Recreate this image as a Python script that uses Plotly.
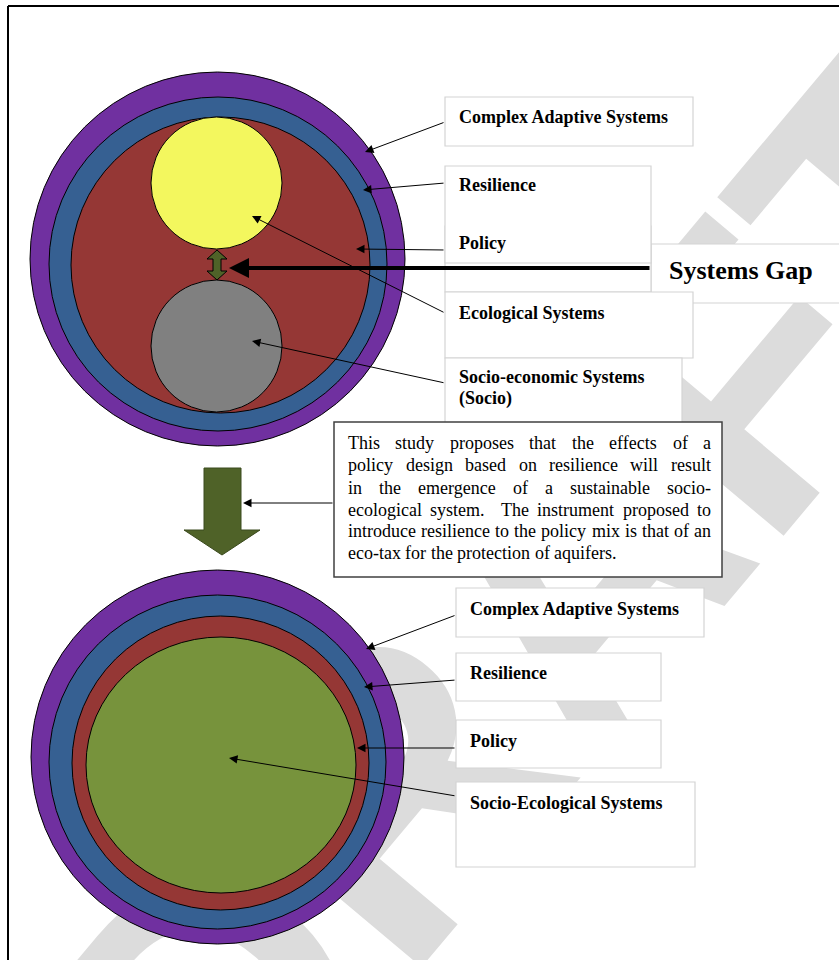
import re
import plotly.graph_objects as go

W, H = 839, 960

# ---------------- text content ----------------
top_labels = ["Complex Adaptive Systems", "Resilience", "Policy",
              "Ecological Systems", "Socio-economic Systems", "(Socio)"]
bottom_labels = ["Complex Adaptive Systems", "Resilience", "Policy",
                 "Socio-Ecological Systems"]
gap_label = "Systems Gap"
paragraph_lines = [
    "This study proposes that the effects of a",
    "policy design based on resilience will result",
    "in the emergence of a sustainable socio-",
    "ecological system.  The instrument proposed to",
    "introduce resilience to the policy mix is that of an",
    "eco-tax for the protection of aquifers.",
]
watermark_text = "DRAFT"

# ---------------- geometry (pixel layout) ----------------
top_label_x = 457
top_label_y = [117, 185, 243, 313, 377, 398]
bottom_label_x = 468
bottom_label_y = [609, 673, 741, 803]
para_left, para_right = 346, 709
para_y = [443, 465, 487.5, 509.5, 531, 552.5]

PURPLE = "#7030A0"
BLUE = "#366092"
RED = "#953735"
YELLOW = "#F3F75E"
GREY = "#808080"
GREEN = "#77933C"
OLIVE = "#4F6228"
BOXLINE = "#d4d4d4"

# Times New Roman metrics (Liberation Serif is metric compatible)
TIMES = {" ": 250, ".": 250, "-": 333, "T": 611,
         "a": 444, "b": 500, "c": 444, "d": 500, "e": 444, "f": 333, "g": 500,
         "h": 500, "i": 278, "j": 278, "k": 500, "l": 278, "m": 778, "n": 500,
         "o": 500, "p": 500, "q": 500, "r": 333, "s": 389, "t": 278, "u": 500,
         "v": 500, "w": 722, "x": 500, "y": 500, "z": 444}


def text_width(s, size):
    return sum(TIMES.get(c, 500) for c in s) / 1000.0 * size


fig = go.Figure()

# watermark (as a trace so that diagram shapes sit above it)
fig.add_trace(go.Bar(
    x=[545], y=[40], base=[590], width=[40],
    marker=dict(color="rgba(0,0,0,0)", line=dict(width=0)),
    text=[watermark_text], textposition="inside", insidetextanchor="middle",
    textangle=-50, constraintext="none", cliponaxis=False,
    textfont=dict(family="Liberation Sans", size=390, color="#dcdcdc", weight="bold"),
    hoverinfo="skip", showlegend=False))

shapes = []


def circle(x0, y0, x1, y1, color):
    shapes.append(dict(type="circle", xref="x", yref="y", x0=x0, y0=y0, x1=x1, y1=y1,
                       fillcolor=color, line=dict(color="black", width=1), layer="above"))


def rect(x0, y0, x1, y1, line_color=BOXLINE, lw=1.2):
    shapes.append(dict(type="rect", xref="x", yref="y", x0=x0, y0=y0, x1=x1, y1=y1,
                       fillcolor="white", line=dict(color=line_color, width=lw), layer="above"))


def poly(pts, color, lc="black"):
    p = "M " + " L ".join(f"{x} {y}" for x, y in pts) + " Z"
    shapes.append(dict(type="path", xref="x", yref="y", path=p, fillcolor=color,
                       line=dict(color=lc, width=1), layer="above"))


# top nested circles
circle(30, 72, 405, 446, PURPLE)
circle(49, 97, 387, 431, BLUE)
circle(71, 117, 370, 413, RED)
circle(151, 117, 282, 249, YELLOW)
circle(151, 280, 282, 412, GREY)

# small double arrow (systems gap)
poly([(213, 259), (207, 259), (217, 250), (227, 259), (221, 259), (221, 271),
      (227, 271), (217, 280), (207, 271), (213, 271)], OLIVE)

# top label boxes
rect(651, 244, 850, 303)            # Systems Gap
rect(445, 97, 693, 146)             # Complex Adaptive Systems
rect(445, 226, 651, 292)            # Policy
rect(445, 166, 651, 263)            # Resilience
rect(445, 292, 693, 358)            # Ecological
rect(445, 358, 682, 440)            # Socio-economic
rect(334, 422, 722, 577, line_color="#404040", lw=1.5)  # paragraph box

# big down arrow
poly([(204, 468), (241, 468), (241, 530), (260, 530), (222, 555), (184, 530), (204, 530)],
     OLIVE, lc="#3b4a1e")

# bottom nested circles
circle(31, 570, 404, 944, PURPLE)
circle(49, 595, 386, 929, BLUE)
circle(72, 616, 369, 910, RED)
circle(86, 637, 356, 893, GREEN)

# bottom label boxes
rect(456, 588, 704, 637)
rect(456, 653, 661, 701)
rect(456, 720, 661, 768)
rect(456, 782, 695, 867)

# outer frame
shapes.append(dict(type="line", xref="x", yref="y", x0=8, y0=6, x1=8, y1=H,
                   line=dict(color="black", width=2), layer="above"))
shapes.append(dict(type="line", xref="x", yref="y", x0=8, y0=6, x1=W, y1=6,
                   line=dict(color="black", width=2), layer="above"))

annotations = []


def arrow(hx, hy, tx, ty, width=1, size=1.7):
    annotations.append(dict(x=hx, y=hy, ax=tx, ay=ty, xref="x", yref="y",
                            axref="x", ayref="y", text="", showarrow=True,
                            arrowhead=2, arrowsize=size, arrowwidth=width,
                            arrowcolor="black", standoff=0))


def label(x, y, s, size=18, bold=True, anchor="left"):
    annotations.append(dict(x=x, y=y, xref="x", yref="y", text=s, showarrow=False,
                            xanchor=anchor, yanchor="middle",
                            font=dict(family="Liberation Serif", size=size, color="black",
                                      weight="bold" if bold else "normal")))


# top arrows
arrow(365, 152, 445, 122)
arrow(363, 190, 445, 183)
arrow(356, 249, 445, 250)
arrow(252, 216, 445, 313)
arrow(252, 341, 445, 383)
arrow(229, 268, 651, 268, width=4, size=1)

# arrow from paragraph to big arrow
arrow(243, 503, 334, 503)

# bottom arrows
arrow(366, 649, 456, 615)
arrow(364, 687, 456, 680)
arrow(357, 748, 456, 748)
arrow(229, 758, 456, 796)

# labels
for s, y in zip(top_labels, top_label_y):
    label(top_label_x, y, s)
for s, y in zip(bottom_labels, bottom_label_y):
    label(bottom_label_x, y, s)
label(667, 270, gap_label, size=26)

# justified paragraph, word by word
PSIZE = 18
for i, (line, y) in enumerate(zip(paragraph_lines, para_y)):
    parts = re.split(r"( +)", line)
    words = parts[0::2]
    gaps = [len(g) for g in parts[1::2]]
    if i == len(paragraph_lines) - 1:
        unit = text_width(" ", PSIZE)
    else:
        free = (para_right - para_left) - sum(text_width(w, PSIZE) for w in words)
        unit = free / sum(gaps)
    x = para_left
    for k, w in enumerate(words):
        label(x, y, w, size=PSIZE, bold=False)
        x += text_width(w, PSIZE)
        if k < len(gaps):
            x += gaps[k] * unit

fig.update_layout(
    width=W, height=H, margin=dict(l=0, r=0, t=0, b=0),
    paper_bgcolor="white", plot_bgcolor="white",
    xaxis=dict(range=[0, W], visible=False, fixedrange=True),
    yaxis=dict(range=[H, 0], visible=False, fixedrange=True),
    shapes=shapes, annotations=annotations, showlegend=False,
)

fig.write_html("out.html", config={"displayModeBar": False},
               post_script="document.body.style.margin='0px';document.body.style.overflow='hidden';")
